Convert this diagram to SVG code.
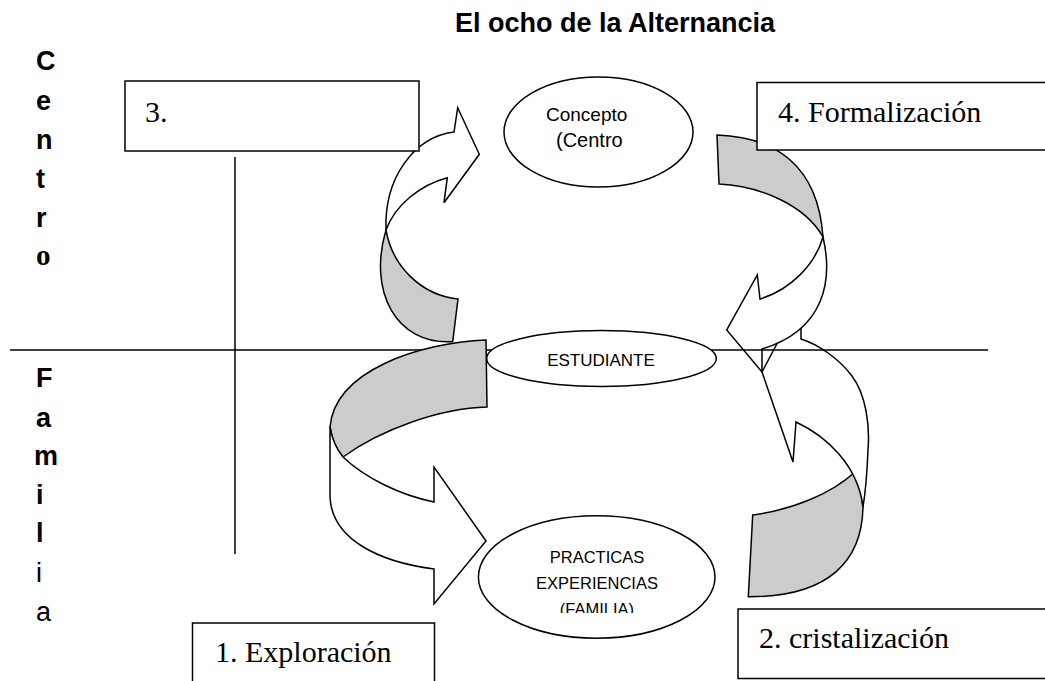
<svg xmlns="http://www.w3.org/2000/svg" width="1045" height="681" viewBox="0 0 1045 681">
<defs>
<style>
.ln{stroke:#000;stroke-width:1.5;fill:none}
.w{fill:#fff;stroke:#000;stroke-width:1.5;stroke-linejoin:miter}
.g{fill:#cccccc;stroke:#000;stroke-width:1.5;stroke-linejoin:miter}
.box{fill:#fff;stroke:#000;stroke-width:1.5}
.ell{fill:#fff;stroke:#000;stroke-width:1.5}
.ser{font-family:"Liberation Serif","Times New Roman",serif;font-size:30px;fill:#000}
.san{font-family:"Liberation Sans",Arial,sans-serif;fill:#000}
.side{font-family:"Liberation Sans",Arial,sans-serif;font-size:27px;font-weight:bold;fill:#000}
.sider{font-family:"Liberation Sans",Arial,sans-serif;font-size:27px;fill:#000}
.sideo{font-family:"Liberation Serif","Times New Roman",serif;font-size:29px;font-weight:bold;fill:#000}
</style>
<clipPath id="pclip"><rect x="470" y="500" width="260" height="113"/></clipPath>
</defs>
<rect width="1045" height="681" fill="#fff"/>

<text id="title" class="san" x="455" y="32" font-size="27" font-weight="bold">El ocho de la Alternancia</text>

<g id="side-labels">
<text class="side" x="36" y="70">C</text>
<text class="side" x="36" y="110">e</text>
<text class="side" x="36" y="149">n</text>
<text class="side" x="36" y="188">t</text>
<text class="side" x="36" y="227">r</text>
<text class="sideo" x="36" y="265">o</text>
<text class="side" x="36" y="387">F</text>
<text class="side" x="36" y="427">a</text>
<text class="side" x="34" y="465">m</text>
<text class="side" x="36" y="504">i</text>
<text class="side" x="36" y="542">l</text>
<text class="sider" x="36" y="582">i</text>
<text class="sider" x="36" y="621">a</text>
</g>

<line id="vline" class="ln" x1="235" y1="157" x2="235" y2="554"/>

<g id="connectors">
<g id="arrow-3">
<path class="g" d="M386,230 C392,265 420,295 458,299 L452.7,341.7 C395,345 368,290 386,230 Z"/>
<path class="w" d="M386,230 C384,178 414,137 454,132 L457.7,107.7 L479.3,154.3 L444,202.7 L447.3,177.7 C420,185 395,205 386,230 Z"/>
</g>
<g id="arrow-2">
<path class="g" d="M752.7,515 C790,510 830,495 855,472 Q861,487 863,507 C862,560 830,597 748.3,596.7 Z"/>
<path class="w" d="M796,422 L793,462 L762,372 L780,338 L801,318 L801,339 C820,345 840,360 852,376 C866,395 870,425 868,450 C867,475 865,495 863,507 C858,465 826,436 796,422 Z"/>
</g>
<g id="arrow-4">
<path class="g" d="M717,135 C775,137 818,165 823,237 C805,205 760,186 719,184 Z"/>
<path class="w" d="M823,237 C833,280 825,330 762,349 L762,372 L726.7,330 L757.3,275 L760,299 C790,290 815,265 823,237 Z"/>
</g>
<line id="hline" class="ln" x1="10" y1="350" x2="988" y2="350"/>
<g id="arrow-1">
<path class="g" d="M486,340 C420,343 335,370 330,427 Q333,445 343,457 C380,430 440,408 487,407 Z"/>
<path class="w" d="M343,457 C365,478 400,495 434,502 L434,467 L486,541 L434,604 L434,569 C380,562 332,540 330,497 L330,427 Q333,445 343,457 Z"/>
</g>
</g>

<g id="node-concepto">
<ellipse class="ell" cx="598.5" cy="132" rx="94.5" ry="55"/>
<text class="san" x="546" y="121" font-size="19">Concepto</text>
<text class="san" x="556" y="147" font-size="20">(Centro</text>
</g>
<g id="node-estudiante">
<ellipse class="ell" cx="601.5" cy="358.5" rx="114.8" ry="28"/>
<text class="san" x="601" y="366" font-size="17" text-anchor="middle">ESTUDIANTE</text>
</g>
<g id="node-practicas">
<ellipse class="ell" cx="596.7" cy="577" rx="118.3" ry="61.2"/>
<g clip-path="url(#pclip)">
<text class="san" x="597" y="563" font-size="16.5" text-anchor="middle">PRACTICAS</text>
<text class="san" x="597" y="588.5" font-size="16.5" text-anchor="middle">EXPERIENCIAS</text>
<text class="san" x="597" y="614.5" font-size="16.5" text-anchor="middle">(FAMILIA)</text>
</g>
</g>

<g id="node-3">
<rect class="box" x="125" y="81" width="294" height="70"/>
<text class="ser" x="145" y="122">3.</text>
</g>
<g id="node-4">
<rect class="box" x="757" y="82.5" width="300" height="67.5"/>
<text class="ser" x="778" y="122">4. Formalización</text>
</g>
<g id="node-1">
<rect class="box" x="192.5" y="623" width="242" height="70"/>
<text class="ser" x="215" y="662">1. Exploración</text>
</g>
<g id="node-2">
<rect class="box" x="738" y="609" width="320" height="69.5"/>
<text class="ser" x="759" y="648">2. cristalización</text>
</g>
</svg>
